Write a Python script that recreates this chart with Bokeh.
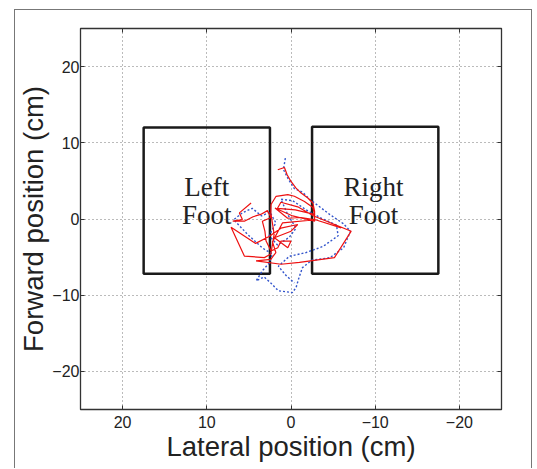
from bokeh.plotting import figure
from bokeh.models import Range1d, FixedTicker, LinearAxis
from bokeh.core.properties import value
from bokeh.embed import file_html
from bokeh.resources import INLINE

# ---- data ----
ticks = [-20, -10, 0, 10, 20]
tick_labels = {-20: "\u221220", -10: "\u221210", 0: "0", 10: "10", 20: "20"}

foot_left = [17.5, -2.5]
foot_right = [2.5, -17.5]
foot_bottom = [-7.2, -7.2]
foot_top = [12.0, 12.1]
label_x = [10.0, -9.8]
label_line1 = ["Left", "Right"]
label_line2 = ["Foot", "Foot"]
label_y1 = [4.2, 4.2]
label_y2 = [0.5, 0.5]

red_x = [4.74, 6.13, 5.77, 6.92, 5.54, 4.50, 3.60, 2.80, 2.37, 3.40, 3.10, 2.96, 2.37,
         1.57, 1.18, 0.00, 0.38, 1.97, 0.00, -0.80, 1.20, 2.60, 4.20, 7.12, 5.54, 3.16,
         2.40, 2.00, 2.40, 2.37, 1.77, 0.38, -0.40, -1.60, -2.60, -2.80, -0.50, 1.60,
         1.20, -0.80, -2.70, -7.15, -5.16, -1.00, 1.18, 4.15, 2.40, 1.80, 2.20, 1.00,
         -2.90, -5.96, -2.90, -1.20, 0.40, 1.90, -0.20, -2.80, -2.80, -2.60, -2.00,
         -1.20, -0.60, 0.00, 0.46, 0.78, 1.57]
red_y = [2.10, 0.80, -0.07, -0.29, -0.29, 0.30, 0.60, 1.10, 0.20, -0.30, -1.60, -2.90,
         -4.20, -3.77, -2.90, -2.90, -3.77, -2.46, -1.60, -0.72, -1.20, -2.30, -3.20,
         -1.07, -4.86, -5.07, -4.60, -2.00, 0.80, 1.90, 2.98, 3.20, 2.98, 2.30, 1.50,
         0.60, 1.20, 1.40, 2.20, 1.60, 0.40, -1.60, -5.07, -5.70, -5.94, -5.50, -5.30,
         -4.40, -3.00, -0.50, -0.10, -1.16, -0.10, 0.20, 0.10, 1.45, 0.40, -0.29, 1.02,
         2.10, 2.76, 3.40, 4.06, 4.93, 5.80, 6.76, 6.46]

blue_x = [0.67, 0.90, 0.30, -0.40, -1.40, -2.20, -3.40, -4.62, -6.20, -7.06, -6.25, -4.62,
          -2.50, -1.36, -0.95, -0.60, -0.16, 1.49, 2.40, 3.20, 4.14, 3.40, 2.60, 2.20,
          3.40, 5.15, 6.80, 5.80, 4.60, 3.50, 2.50, 1.80, 2.60, 1.60, 0.20, -0.60, 0.40,
          1.20, -0.20, -1.80, -3.60, -5.40, -5.60, -3.80, -1.80, 0.20, 1.50, 0.60, -0.40]
blue_y = [7.98, 6.50, 5.20, 4.00, 3.50, 2.60, 1.60, 0.58, -0.60, -1.60, -3.77, -5.08,
          -5.40, -6.38, -7.69, -9.00, -9.65, -9.43, -8.40, -7.60, -8.12, -6.80, -5.80,
          -4.60, -3.80, -2.03, -0.10, 0.80, 1.40, 0.40, 0.90, -0.50, -2.20, -3.40, -2.40,
          -1.20, 0.60, 2.60, 2.40, 1.20, 0.10, -0.80, -2.20, -3.60, -4.40, -4.90, -6.20,
          -7.40, -8.40]

FONT = "Liberation Sans"
TXT = "#222222"

p = figure(width=518, height=459,
           min_border_left=65, min_border_right=32, min_border_top=18, min_border_bottom=60,
           x_range=Range1d(25, -25), y_range=Range1d(-25, 25),
           output_backend="svg", toolbar_location=None)
p.margin = (9, 0, 0, 14)
p.styles = {"border-top": "1px solid #777777", "border-left": "1px solid #777777",
            "border-right": "1px solid #777777"}
p.background_fill_color = "white"
p.border_fill_color = "white"
p.outline_line_color = "#333333"
p.outline_line_width = 1.3

ticker = FixedTicker(ticks=ticks)
for ax in (p.xaxis[0], p.yaxis[0]):
    ax.ticker = ticker
    ax.major_label_overrides = tick_labels
    ax.major_tick_in = 4
    ax.major_tick_out = 0
    ax.minor_tick_in = 0
    ax.minor_tick_out = 0
    ax.axis_line_color = "#333333"
    ax.major_tick_line_color = "#333333"
    ax.major_label_text_font = FONT
    ax.major_label_text_font_size = "16px"
    ax.major_label_text_color = TXT
    ax.axis_label_text_font = FONT
    ax.axis_label_text_font_size = "27.5px"
    ax.axis_label_text_font_style = "normal"
    ax.axis_label_text_color = TXT

p.xaxis.axis_label = "Lateral position (cm)"
p.yaxis.axis_label = "Forward position (cm)"
p.xaxis.major_label_standoff = 6
p.yaxis.major_label_standoff = 1
p.xaxis.axis_label_standoff = 0
p.yaxis.axis_label_standoff = 0

for side in ("right", "above"):
    ax = LinearAxis(ticker=ticker, major_tick_in=4, major_tick_out=0,
                    minor_tick_in=0, minor_tick_out=0,
                    major_label_overrides={t: "" for t in ticks},
                    major_label_text_font_size="1px", major_label_standoff=0,
                    axis_line_color="#333333", major_tick_line_color="#333333")
    p.add_layout(ax, side)

p.xgrid.ticker = ticker
p.ygrid.ticker = ticker
for g in (p.xgrid[0], p.ygrid[0]):
    g.grid_line_color = "#777777"
    g.grid_line_dash = "1 3"
    g.grid_line_width = 1

# feet outlines
p.quad(left=foot_left, right=foot_right, bottom=foot_bottom, top=foot_top,
       fill_alpha=0, line_color="#1a1a1a", line_width=2.5)

# trajectories
p.line(blue_x, blue_y, line_color="#3355cc", line_width=1.4, line_dash="2 2")
p.line(red_x, red_y, line_color="#ee1111", line_width=1.2)

p.text(x=label_x, y=label_y1, text=label_line1, text_font=value("Liberation Serif"),
       text_font_size="27px", text_align="center", text_baseline="alphabetic",
       text_color=TXT)
p.text(x=label_x, y=label_y2, text=label_line2, text_font=value("Liberation Serif"),
       text_font_size="27px", text_align="center", text_baseline="alphabetic",
       text_color=TXT)

open("out.html", "w").write(file_html(p, INLINE))
